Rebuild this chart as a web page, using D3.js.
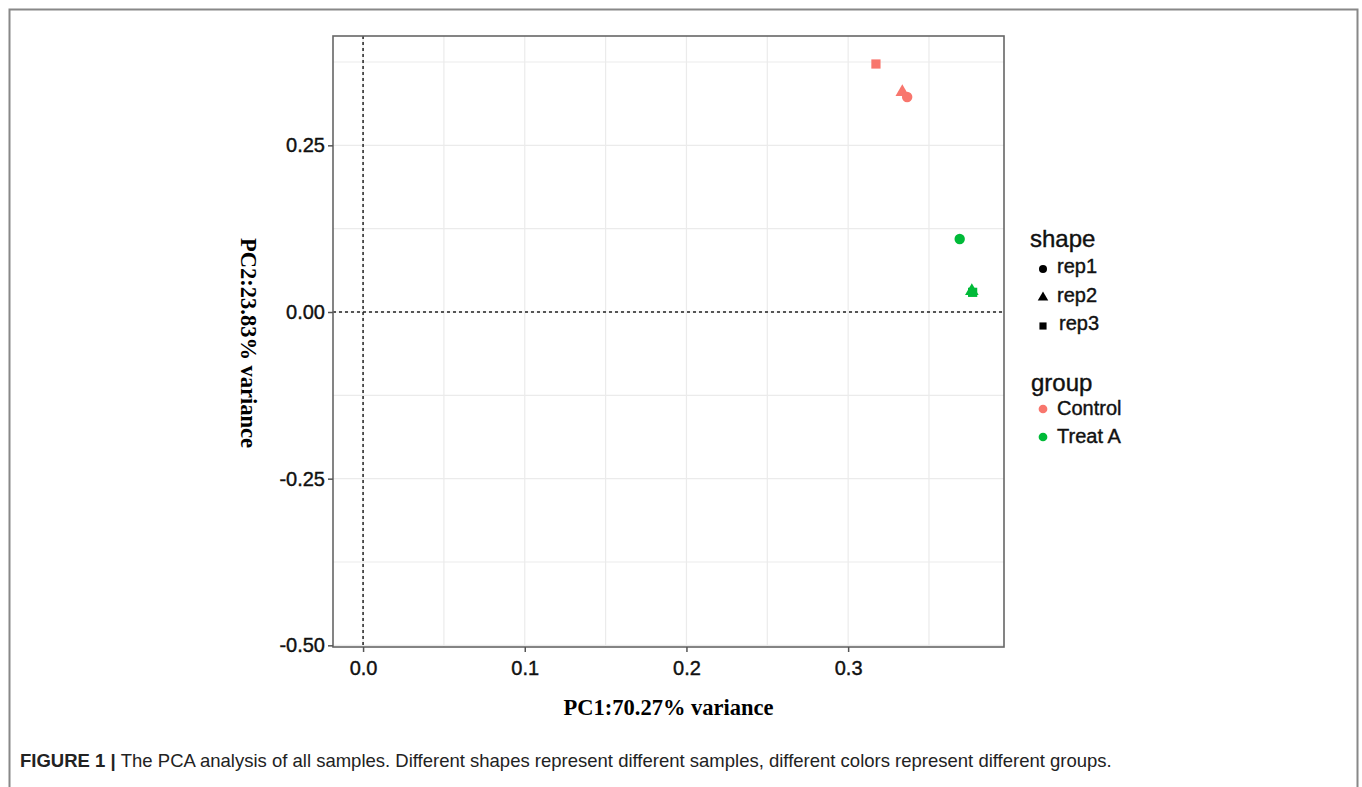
<!DOCTYPE html>
<html>
<head>
<meta charset="utf-8">
<script src="https://cdn.jsdelivr.net/npm/d3@7"></script>
<style>
  body { margin: 0; background: #fff; }
  svg { display: block; }
</style>
</head>
<body>
<script>
// sample data
var groups = ["Control", "Treat A"];
var shapes = ["rep1", "rep2", "rep3"];
var sampleGroup = ["Control", "Control", "Control", "Treat A", "Treat A", "Treat A"];
var sampleShape = ["rep1", "rep2", "rep3", "rep1", "rep2", "rep3"];
var pc1 = [0.3365, 0.3335, 0.3172, 0.3690, 0.3765, 0.3770];
var pc2 = [0.3225, 0.3300, 0.3720, 0.1095, 0.0315, 0.0295];

var xTicks = [0.0, 0.1, 0.2, 0.3];
var yTicks = [-0.50, -0.25, 0.00, 0.25];
var xMinor = [0.05, 0.15, 0.25, 0.35];
var yMinor = [-0.375, -0.125, 0.125, 0.375];

var W = 1362, H = 787;
var svg = d3.select("body").append("svg").attr("width", W).attr("height", H);

// outer figure frame (open at bottom)
svg.append("path")
  .attr("d", "M9.5,787 V9.5 H1357.5 V787")
  .attr("fill", "none").attr("stroke", "#888").attr("stroke-width", 2);

var panel = {left: 333, right: 1004, top: 36, bottom: 647};

var x = d3.scaleLinear().domain([-0.0186, 0.3964]).range([panel.left, panel.right]);
var y = d3.scaleLinear().domain([-0.5025, 0.414]).range([panel.bottom, panel.top]);

var color = d3.scaleOrdinal().domain(groups).range(["#F8766D", "#00BA38"]);
var symbol = d3.scaleOrdinal().domain(shapes).range([d3.symbolCircle, d3.symbolTriangle, d3.symbolSquare]);
var symSize = {rep1: 85, rep2: 80, rep3: 85};

var sans = "Arial, 'Liberation Sans', sans-serif";
var serif = "'Times New Roman', 'Liberation Serif', serif";

var g = svg.append("g");

// grid
g.selectAll(".gx").data(xTicks.concat(xMinor)).join("line")
  .attr("x1", d => x(d)).attr("x2", d => x(d))
  .attr("y1", panel.top).attr("y2", panel.bottom)
  .attr("stroke", "#ebebeb").attr("stroke-width", 1.2);
g.selectAll(".gy").data(yTicks.concat(yMinor)).join("line")
  .attr("y1", d => y(d)).attr("y2", d => y(d))
  .attr("x1", panel.left).attr("x2", panel.right)
  .attr("stroke", "#ebebeb").attr("stroke-width", 1.2);

// zero reference lines
g.append("line")
  .attr("x1", x(0)).attr("x2", x(0)).attr("y1", panel.top).attr("y2", panel.bottom)
  .attr("stroke", "#222").attr("stroke-width", 1.5).attr("stroke-dasharray", "3,3");
g.append("line")
  .attr("y1", y(0)).attr("y2", y(0)).attr("x1", panel.left).attr("x2", panel.right)
  .attr("stroke", "#222").attr("stroke-width", 1.5).attr("stroke-dasharray", "3,3");

// points
var idx = d3.range(pc1.length);
g.selectAll(".pt").data(idx).join("path")
  .attr("transform", i => "translate(" + x(pc1[i]) + "," + y(pc2[i]) + ")")
  .attr("d", i => d3.symbol().type(symbol(sampleShape[i])).size(symSize[sampleShape[i]])())
  .attr("fill", i => color(sampleGroup[i]));

// panel border
g.append("rect")
  .attr("x", panel.left).attr("y", panel.top)
  .attr("width", panel.right - panel.left).attr("height", panel.bottom - panel.top)
  .attr("fill", "none").attr("stroke", "#666").attr("stroke-width", 1.6);

// axes
var fmtY = d => d3.format(".2f")(d).replace("\u2212", "-");
var xAxis = d3.axisBottom(x).tickValues(xTicks).tickFormat(d3.format(".1f")).tickSize(5).tickPadding(6);
var yAxis = d3.axisLeft(y).tickValues(yTicks).tickFormat(fmtY).tickSize(5).tickPadding(3);

var gx = svg.append("g").attr("transform", "translate(0," + panel.bottom + ")").call(xAxis);
var gy = svg.append("g").attr("transform", "translate(" + panel.left + ",0)").call(yAxis);
[gx, gy].forEach(function(a) {
  a.select(".domain").remove();
  a.selectAll(".tick line").attr("stroke", "#555").attr("stroke-width", 1.5);
  a.selectAll(".tick text")
    .attr("fill", "#111").attr("stroke", "#111").attr("stroke-width", 0.4)
    .style("font-family", sans)
    .style("font-size", "20px");
});
gx.selectAll(".tick text").attr("dy", "0.85em");

// axis titles
svg.append("text")
  .attr("x", (panel.left + panel.right) / 2).attr("y", 715)
  .attr("text-anchor", "middle")
  .style("font-family", serif)
  .style("font-weight", "bold").style("font-size", "22.5px")
  .text("PC1:70.27% variance");
svg.append("text")
  .attr("transform", "translate(241,343) rotate(90)")
  .attr("text-anchor", "middle")
  .style("font-family", serif)
  .style("font-weight", "bold").style("font-size", "22.5px")
  .text("PC2:23.83% variance");

// legends
var lg = svg.append("g");
function legText(sel) {
  return sel.style("font-family", sans).attr("fill", "#111")
    .attr("stroke", "#111").attr("stroke-width", 0.4);
}
legText(lg.append("text").attr("x", 1030).attr("y", 247).style("font-size", "24px").text("shape"));
var shapeY = d3.scalePoint().domain(shapes).range([269, 326]);
lg.selectAll(".ls").data(shapes).join("path")
  .attr("transform", d => "translate(1043," + shapeY(d) + ")")
  .attr("d", d => d3.symbol().type(symbol(d)).size(symSize[d] * 0.6)())
  .attr("fill", "#000");
legText(lg.selectAll(".lst").data(shapes).join("text")
  .attr("x", d => d === "rep3" ? 1059 : 1057).attr("y", d => shapeY(d) + 4)
  .style("font-size", "20px")
  .text(d => d));

legText(lg.append("text").attr("x", 1031).attr("y", 391).style("font-size", "24px").text("group"));
var groupY = d3.scalePoint().domain(groups).range([409, 437]);
lg.selectAll(".lg").data(groups).join("path")
  .attr("transform", d => "translate(1043," + groupY(d) + ")")
  .attr("d", d3.symbol().type(d3.symbolCircle).size(60)())
  .attr("fill", d => color(d));
legText(lg.selectAll(".lgt").data(groups).join("text")
  .attr("x", 1057).attr("y", d => groupY(d) + 6)
  .style("font-size", "20px")
  .text(d => d));

// caption
var cap = svg.append("text").attr("x", 20).attr("y", 767)
  .style("font-family", "'Liberation Sans Narrow', 'Arial Narrow', Arial, sans-serif")
  .style("font-size", "18.5px").attr("fill", "#222");
cap.append("tspan").style("font-weight", "bold").text("FIGURE 1 | ");
cap.append("tspan").text("The PCA analysis of all samples. Different shapes represent different samples, different colors represent different groups.");
</script>
</body>
</html>
